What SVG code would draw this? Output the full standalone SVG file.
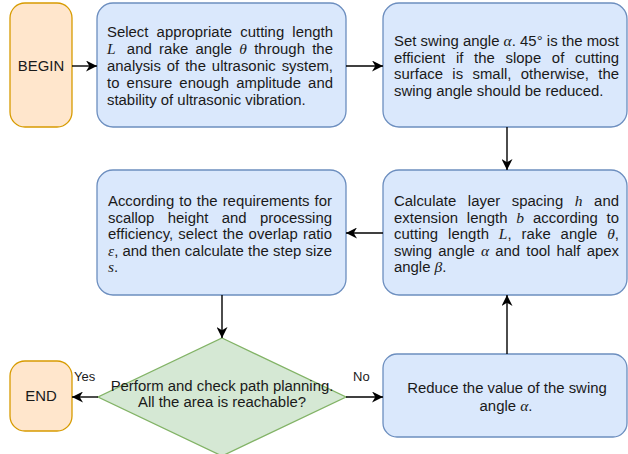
<svg xmlns="http://www.w3.org/2000/svg" width="628" height="454" viewBox="0 0 628 454">
<defs>
<style>
.term{fill:#ffe6cc;stroke:#d79b00;stroke-width:1.3}
.proc{fill:#dae8fc;stroke:#6c8ebf;stroke-width:1.3}
.dec{fill:#d5e8d4;stroke:#82b366;stroke-width:1.3}
text{font-family:"Liberation Sans",Arial,sans-serif;font-size:14.9px;fill:#1a1a1a}
.m{font-family:"Liberation Serif","Times New Roman",serif;font-style:italic;font-size:15.5px}
.lbl{font-size:13px}
.c{text-anchor:middle}
.edge{stroke:#000;stroke-width:1.4;fill:none;marker-end:url(#arr)}
</style>
<marker id="arr" markerUnits="userSpaceOnUse" markerWidth="11" markerHeight="11" refX="10" refY="5" orient="auto" viewBox="0 0 10 10">
<path d="M0,0 L10,5 L0,10 L3,5 z" fill="#000"/>
</marker>
</defs>

<g id="begin">
<rect class="term" x="10" y="3" width="62" height="124" rx="15"/>
<text class="c" x="41" y="71">BEGIN</text>
</g>

<g id="select">
<rect class="proc" x="97" y="3" width="249" height="124" rx="16"/>
<text x="107" y="37" textLength="226" lengthAdjust="spacing" style="word-spacing:4px">Select appropriate cutting length</text>
<text x="107" y="54" textLength="226" lengthAdjust="spacing" style="word-spacing:3px"><tspan class="m">L</tspan><tspan dx="4"> and</tspan> rake angle <tspan class="m">θ</tspan> through the</text>
<text x="107" y="71" textLength="226" lengthAdjust="spacing" style="word-spacing:1.8px">analysis of the ultrasonic system,</text>
<text x="107" y="88" textLength="226" lengthAdjust="spacing" style="word-spacing:3px">to ensure enough amplitude and</text>
<text x="107" y="105">stability of ultrasonic vibration.</text>
</g>

<g id="swing">
<rect class="proc" x="383" y="3" width="244" height="124" rx="16"/>
<text x="394" y="46" textLength="225" lengthAdjust="spacing">Set swing angle <tspan class="m">α</tspan>. 45° is the most</text>
<text x="394" y="62.5" textLength="225" lengthAdjust="spacing" style="word-spacing:6.5px">efficient if the slope of cutting</text>
<text x="394" y="79" textLength="225" lengthAdjust="spacing" style="word-spacing:5.2px">surface is small, otherwise, the</text>
<text x="394" y="95.5">swing angle should be reduced.</text>
</g>

<g id="calc">
<rect class="proc" x="383" y="170" width="244" height="125" rx="16"/>
<text x="394" y="206" textLength="225" lengthAdjust="spacing" style="word-spacing:7.4px">Calculate layer spacing <tspan class="m">h</tspan> and</text>
<text x="394" y="222.5" textLength="225" lengthAdjust="spacing" style="word-spacing:4.6px">extension length <tspan class="m">b</tspan> according to</text>
<text x="394" y="239" textLength="225" lengthAdjust="spacing" style="word-spacing:5.7px">cutting length <tspan class="m">L</tspan>, rake angle <tspan class="m">θ</tspan>,</text>
<text x="394" y="255.5" textLength="225" lengthAdjust="spacing" style="word-spacing:2px">swing angle <tspan class="m">α</tspan> and tool half apex</text>
<text x="394" y="272">angle <tspan class="m">β</tspan>.</text>
</g>

<g id="overlap">
<rect class="proc" x="97" y="170" width="249" height="125" rx="16"/>
<text x="108" y="206" textLength="224" lengthAdjust="spacing" style="word-spacing:1px">According to the requirements for</text>
<text x="108" y="222.5" textLength="224" lengthAdjust="spacing" style="word-spacing:9.2px">scallop height and processing</text>
<text x="108" y="239" textLength="224" lengthAdjust="spacing" style="word-spacing:1px">efficiency, select the overlap ratio</text>
<text x="108" y="255.5" textLength="224" lengthAdjust="spacing"><tspan class="m">ε</tspan>, and then calculate the step size</text>
<text x="108" y="272"><tspan class="m">s</tspan>.</text>
</g>

<g id="check">
<polygon class="dec" points="222,338 346,397 222,456 98,397"/>
<text class="c" x="222" y="391">Perform and check path planning.</text>
<text class="c" x="222" y="407">All the area is reachable?</text>
</g>

<g id="end">
<rect class="term" x="10" y="361" width="62" height="70" rx="15"/>
<text class="c" x="41" y="401">END</text>
</g>

<g id="reduce">
<rect class="proc" x="383" y="354" width="244" height="83" rx="14"/>
<text class="c" x="507" y="393">Reduce the value of the swing</text>
<text class="c" x="506" y="411">angle <tspan class="m">α</tspan>.</text>
</g>

<g id="connectors">
<line class="edge" x1="72" y1="66" x2="97" y2="66"/>
<line class="edge" x1="346" y1="66" x2="383" y2="66"/>
<line class="edge" x1="507" y1="127" x2="507" y2="170"/>
<line class="edge" x1="383" y1="233" x2="346" y2="233"/>
<line class="edge" x1="222" y1="295" x2="222" y2="338"/>
<line class="edge" x1="98" y1="397" x2="72" y2="397"/>
<line class="edge" x1="346" y1="397" x2="383" y2="397"/>
<line class="edge" x1="507" y1="354" x2="507" y2="295"/>
<text class="lbl" x="74" y="381">Yes</text>
<text class="lbl" x="353" y="381">No</text>
</g>
</svg>
